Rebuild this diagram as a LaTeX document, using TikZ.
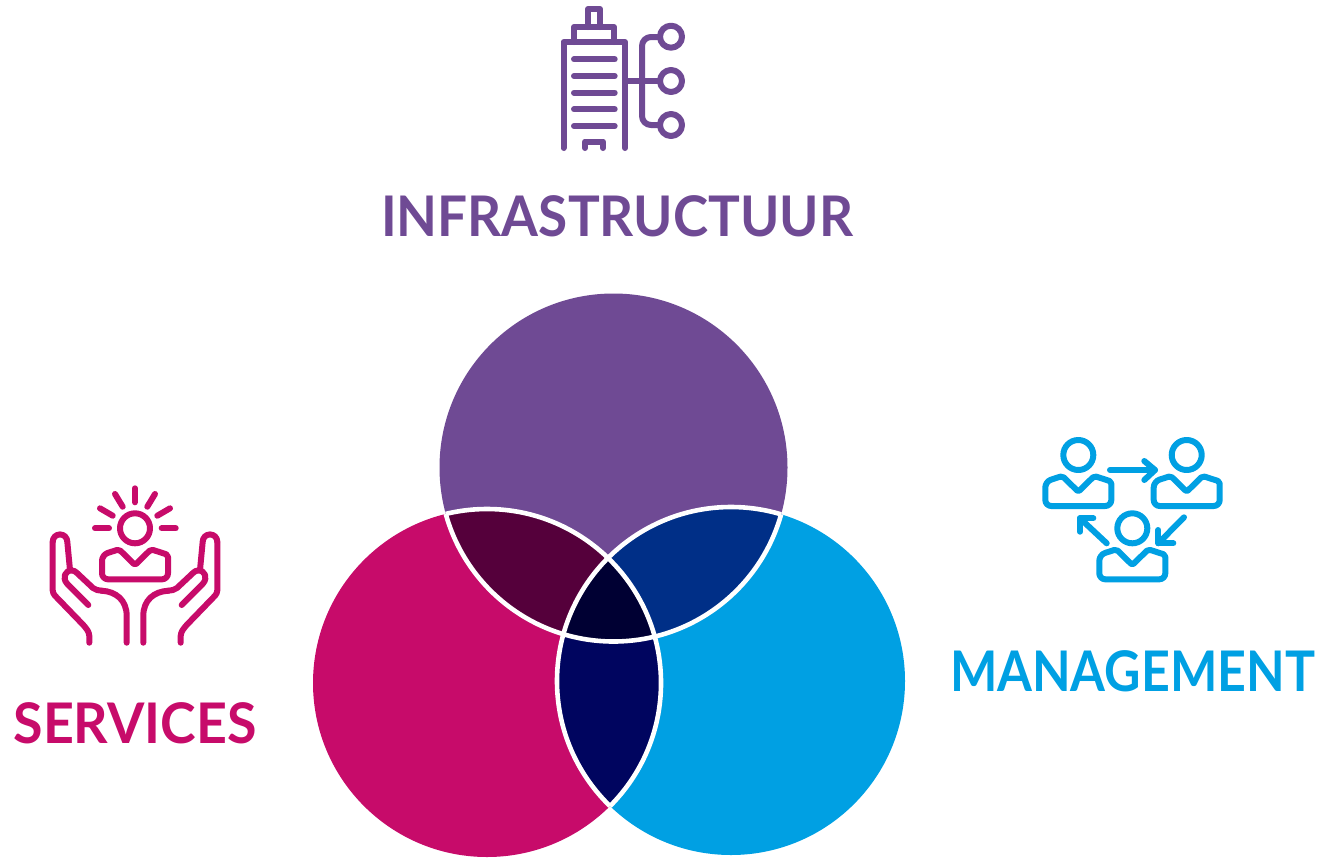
\documentclass[tikz,border=0pt]{standalone}
\usepackage{fontspec}
\newfontfamily\lab{Lato}
\definecolor{cpur}{HTML}{6F4A94}
\definecolor{cmag}{HTML}{C70B6A}
\definecolor{cblu}{HTML}{00A0E3}
\definecolor{lpm}{HTML}{55003B}
\definecolor{lpb}{HTML}{002F87}
\definecolor{lmb}{HTML}{00055F}
\definecolor{lall}{HTML}{000033}
\tikzset{
  icon/.style={line width=6pt,line cap=round,line join=round},
  title/.style={font=\lab\bfseries\fontsize{56}{56}\selectfont,inner sep=0pt,anchor=base},
}
\newcommand{\bodyshape}{%
  \draw[icon,rounded corners=6pt] (0,51) -- (-33,51) -- (-33,26.5) [rounded corners=2pt] -- (-16,21) -- (0,36.7) -- (16,21) -- (33,26.5) [rounded corners=6pt] -- (33,51) -- cycle;}
\newcommand{\pers}[2]{%
  \begin{scope}[shift={(#1,#2)}]
    \draw[icon] (0,0) circle (15);
    \bodyshape
  \end{scope}}
\newcommand{\handL}{%
  \draw[icon,rounded corners=3pt] (89.3,642.7) -- (89.3,633) -- (85,626.7) -- (52.7,593.3) -- (52.7,541.7);
  \draw[icon] (52.7,541.7) arc[start angle=180,end angle=360,radius=7.3] -- (70,570);
  \draw[icon] (88.3,605) -- (67,583.5) .. controls (62,578) and (65,570) .. (72,570.5) .. controls (74,570.7) and (75,571) .. (77,573) -- (93,588) .. controls (96,590) and (98,590.5) .. (101.7,590.7);
  \draw[icon] (101.7,590.7) .. controls (116,591.5) and (126.7,600) .. (126.7,616) -- (126.7,642.7);}
\begin{document}
\begin{tikzpicture}[x=1pt,y=-1pt]
\useasboundingbox (0,0) rectangle (1319,857);
\coordinate (P) at (613.5,467.5);
\coordinate (M) at (487,683);
\coordinate (B) at (731,681);
\def\R{174}
\fill[cpur] (P) circle (\R);
\fill[cmag] (M) circle (\R);
\fill[cblu] (B) circle (\R);
\begin{scope}\clip (P) circle (\R); \fill[lpm] (M) circle (\R); \fill[lpb] (B) circle (\R); \end{scope}
\begin{scope}\clip (M) circle (\R); \fill[lmb] (B) circle (\R); \end{scope}
\begin{scope}\clip (P) circle (\R); \clip (M) circle (\R); \fill[lall] (B) circle (\R); \end{scope}
\begin{scope}\clip (M) circle (\R) (B) circle (\R); \draw[white,line width=4.6pt] (P) circle (\R); \end{scope}
\begin{scope}\clip (P) circle (\R) (B) circle (\R); \draw[white,line width=4.6pt] (M) circle (\R); \end{scope}
\begin{scope}\clip (P) circle (\R) (M) circle (\R); \draw[white,line width=4.6pt] (B) circle (\R); \end{scope}

\node[title,text=cpur] (tinf) at (617,236) {\scalebox{0.948}[1]{INFRASTRUCTUUR}};
\node[title,text=cmag] (tser) at (135,743) {\scalebox{0.96}[1]{SERVICES}};
\node[title,text=cblu] (tman) at (1132.5,691) {\scalebox{0.896}[1]{MANAGEMENT}};

% building icon
\begin{scope}[cpur,icon]
\draw (563.5,148) -- (563.5,42) -- (625,42) -- (625,148);
\draw (574,42) -- (574,27) -- (614,27) -- (614,42);
\draw (588,27) -- (588,9) -- (600,9) -- (600,27);
\foreach \yy in {59.3,76,92.7,109.3,126} \draw (574,\yy) -- (614.7,\yy);
\draw (585,148) -- (585,141.5) -- (603,141.5) -- (603,148);
\draw (625,81) -- (660,81);
\draw[rounded corners=9pt] (660,37) -- (642,37) -- (642,125) -- (660,125);
\foreach \yy in {36.7,81,125} \draw (671,\yy) circle (11);
\end{scope}

% services icon
\begin{scope}[cmag,icon]
\draw (135,528.3) circle (15);
\draw (95,528.3) -- (109,528.3);
\draw (161.7,528.3) -- (175.7,528.3);
\draw (135,488.3) -- (135,502.3);
\draw (115,494) -- (122.7,506.7);
\draw (155,494) -- (147.3,506.7);
\draw (100,508.3) -- (112.7,515.7);
\draw (170,508.3) -- (157.3,515.7);
\begin{scope}[shift={(135,528.3)}]\bodyshape\end{scope}
\handL
\begin{scope}[xscale=-1,xshift=-270pt]\handL\end{scope}
\end{scope}

% management icon
\begin{scope}[cblu,icon]
\pers{1078.3}{455}
\pers{1186.7}{455}
\pers{1132.3}{528.3}
\draw (1110,470) -- (1155,470);
\draw (1144.3,461) -- (1155,470) -- (1144.3,480);
\draw (1184,517.3) -- (1158.3,543.3);
\draw (1158.3,530) -- (1158.3,543.3) -- (1173.3,543.3);
\draw (1106.7,543.3) -- (1080,518.3);
\draw (1080,531.7) -- (1080,518.3) -- (1093.3,518.3);
\end{scope}
\end{tikzpicture}
\end{document}
